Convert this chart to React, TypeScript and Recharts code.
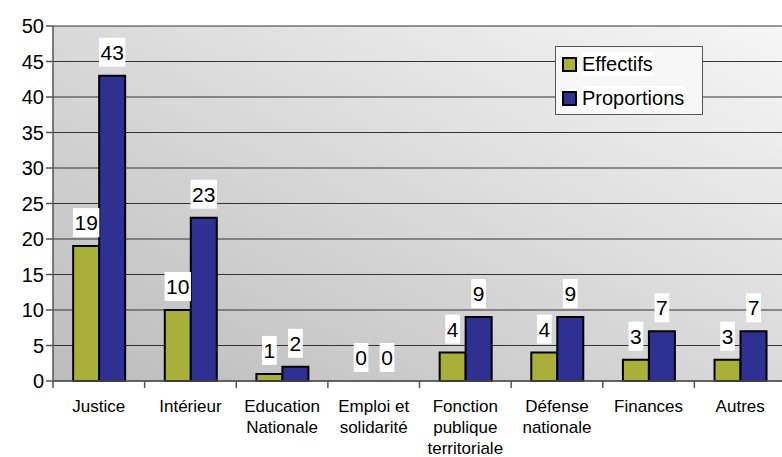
import { BarChart, Bar, XAxis, YAxis, CartesianGrid, Legend, LabelList, Cell } from "recharts";

const categories = [
  "Justice",
  "Intérieur",
  "Education\nNationale",
  "Emploi et\nsolidarité",
  "Fonction\npublique\nterritoriale",
  "Défense\nnationale",
  "Finances",
  "Autres",
];
const effectifs = [19, 10, 1, 0, 4, 4, 3, 3];
const proportions = [43, 23, 2, 0, 9, 9, 7, 7];
const yTicks = [0, 5, 10, 15, 20, 25, 30, 35, 40, 45, 50];

const data = categories.map((name, i) => ({
  name,
  effectifs: effectifs[i],
  proportions: proportions[i],
}));

const FONT = "'Liberation Sans', Arial, sans-serif";
const GREEN = "#a8b03a";
const BLUE = "#2e3192";
const CHART_W = 786;
const LEFT = 53;
const BAND = (CHART_W - LEFT) / categories.length;

function ValueLabel(props: any) {
  const { x, y, width, height, value } = props;
  const s = String(value);
  const w = s.length * 11.7 + 3;
  const cx = x + width / 2;
  // top of the bar (height may be negative in some recharts versions)
  const top = Math.min(y, y + (height || 0));
  const bottom = top - 9;
  return (
    <g>
      <rect x={cx - w / 2} y={bottom - 29} width={w} height={29} fill="#fff" />
      <text x={cx} y={bottom - 7} textAnchor="middle" fontSize={21} fontFamily={FONT} fill="#000">
        {s}
      </text>
    </g>
  );
}

function CatTick(props: any) {
  const { x, y, payload } = props;
  const lines = String(payload.value).split("\n");
  return (
    <g>
      <line x1={x - BAND / 2} y1={y} x2={x - BAND / 2} y2={y + 7} stroke="#555" strokeWidth={1.5} />
      {lines.map((l, i) => (
        <text key={i} x={x} y={y + 31 + i * 21} textAnchor="middle" fontSize={17} fontFamily={FONT} fill="#000">
          {l}
        </text>
      ))}
    </g>
  );
}

function LegendBox() {
  const items = [
    { label: "Effectifs", color: GREEN },
    { label: "Proportions", color: BLUE },
  ];
  return (
    <div
      style={{
        width: 148,
        height: 69,
        border: "1px solid #555",
        background: "#f7f7f7",
        boxSizing: "border-box",
        paddingLeft: 6,
        fontFamily: FONT,
        fontSize: 20,
      }}
    >
      {items.map((it) => (
        <div key={it.label} style={{ display: "flex", alignItems: "center", height: 34 }}>
          <span
            style={{
              width: 11,
              height: 11,
              background: it.color,
              border: "2px solid #000",
              display: "inline-block",
              marginRight: 5,
            }}
          />
          <span style={{ background: "#fff", lineHeight: "24px" }}>{it.label}</span>
        </div>
      ))}
    </div>
  );
}

export default function App() {
  return (
    <div style={{ position: "absolute", left: 0, top: 0, width: 782, height: 457, overflow: "hidden", background: "#fff" }}>
      <BarChart
        width={CHART_W}
        height={457}
        data={data}
        margin={{ top: 26, right: 0, left: 0, bottom: 0 }}
        barCategoryGap="22%"
        barGap={0}
      >
        <defs>
          <linearGradient id="bg" x1="1" y1="0" x2="0" y2="1">
            <stop offset="0%" stopColor="#f6f6f6" />
            <stop offset="100%" stopColor="#bcbcbc" />
          </linearGradient>
        </defs>
        <CartesianGrid vertical={false} stroke="#333" fill="url(#bg)" />
        <XAxis
          dataKey="name"
          interval={0}
          tick={<CatTick />}
          tickLine={false}
          tickSize={0}
          tickMargin={0}
          height={76}
          axisLine={{ stroke: "#555", strokeWidth: 1.5 }}
        />
        <YAxis
          width={LEFT}
          domain={[0, 50]}
          ticks={yTicks}
          interval={0}
          tickSize={7}
          tick={{ fontSize: 20, fill: "#000", fontFamily: FONT }}
          axisLine={{ stroke: "#555", strokeWidth: 1.5 }}
          tickLine={{ stroke: "#555", strokeWidth: 1.5 }}
        />
        <Legend
          layout="vertical"
          align="center"
          verticalAlign="middle"
          content={() => <LegendBox />}
          wrapperStyle={{ position: "absolute", left: 555, top: 46, width: 148, height: 69 }}
        />
        <Bar dataKey="effectifs" fill={GREEN} stroke="#000" strokeWidth={2} minPointSize={0.01} isAnimationActive={false}>
          {effectifs.map((v, i) => (
            <Cell key={i} stroke={v > 0 ? "#000" : "none"} fillOpacity={v > 0 ? 1 : 0} />
          ))}
          <LabelList dataKey="effectifs" content={<ValueLabel />} />
        </Bar>
        <Bar dataKey="proportions" fill={BLUE} stroke="#000" strokeWidth={2} minPointSize={0.01} isAnimationActive={false}>
          {proportions.map((v, i) => (
            <Cell key={i} stroke={v > 0 ? "#000" : "none"} fillOpacity={v > 0 ? 1 : 0} />
          ))}
          <LabelList dataKey="proportions" content={<ValueLabel />} />
        </Bar>
      </BarChart>
    </div>
  );
}
